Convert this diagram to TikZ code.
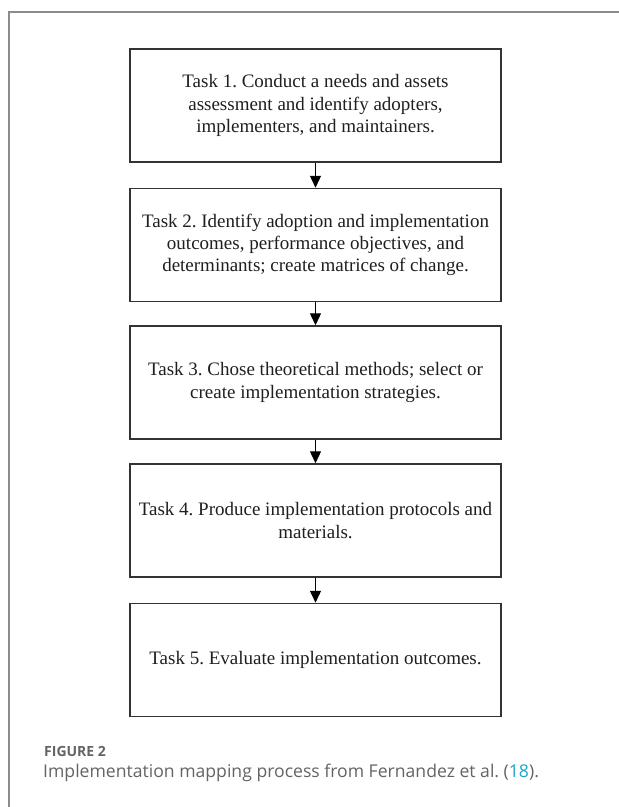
\documentclass[tikz,border=0pt]{standalone}
\usepackage{fontspec}
\setmainfont{Liberation Serif}
\newfontfamily\capfont{Open Sans}
\usetikzlibrary{arrows.meta}
\frenchspacing
\definecolor{framegray}{HTML}{8C8C8C}
\definecolor{boxgray}{HTML}{333333}
\definecolor{captext}{HTML}{646464}
\definecolor{citeblue}{HTML}{1AA6C8}
\tikzset{
  taskbox/.style={draw=boxgray, line width=1.5pt, minimum width=371pt, minimum height=113pt,
    align=center, inner sep=0pt, font=\fontsize{19}{22.3}\selectfont, text=black!88},
  flowarrow/.style={draw=black, line width=1.3pt, -{Triangle[width=11pt,length=12pt]}}
}
\begin{document}
\begin{tikzpicture}[x=1pt,y=-1pt]
\useasboundingbox (0,0) rectangle (619,807);
\fill[white] (0,0) rectangle (619,807);
\draw[framegray, line width=1.5pt] (9,807) -- (9,12) -- (619,12);
\node[taskbox] (b1) at (315.5,105.5) {Task 1. Conduct a needs and assets\\assessment and identify adopters,\\implementers, and maintainers.};
\node[taskbox] (b2) at (315.5,245) {Task 2. Identify adoption and implementation\\outcomes, performance objectives, and\\determinants; create matrices of change.};
\node[taskbox] (b3) at (315.5,382.5) {Task 3. Chose theoretical methods; select or\\create implementation strategies.};
\node[taskbox] (b4) at (315.5,520.5) {Task 4. Produce implementation protocols and\\materials.};
\node[taskbox] (b5) at (315.5,660) {Task 5. Evaluate implementation outcomes.};
\draw[flowarrow] (b1.south) -- (b2.north);
\draw[flowarrow] (b2.south) -- (b3.north);
\draw[flowarrow] (b3.south) -- (b4.north);
\draw[flowarrow] (b4.south) -- (b5.north);
\node[anchor=base west, inner sep=0pt, text=captext, font=\capfont\fontsize{14}{16}\selectfont\bfseries] (figlabel) at (44,756) {FIGURE 2};
\node[anchor=base west, inner sep=0pt, text=captext, font=\capfont\fontsize{17.6}{21}\selectfont] (caption) at (43,777) {Implementation mapping process from Fernandez et al. (\textcolor{citeblue}{18}).};
\end{tikzpicture}
\end{document}
